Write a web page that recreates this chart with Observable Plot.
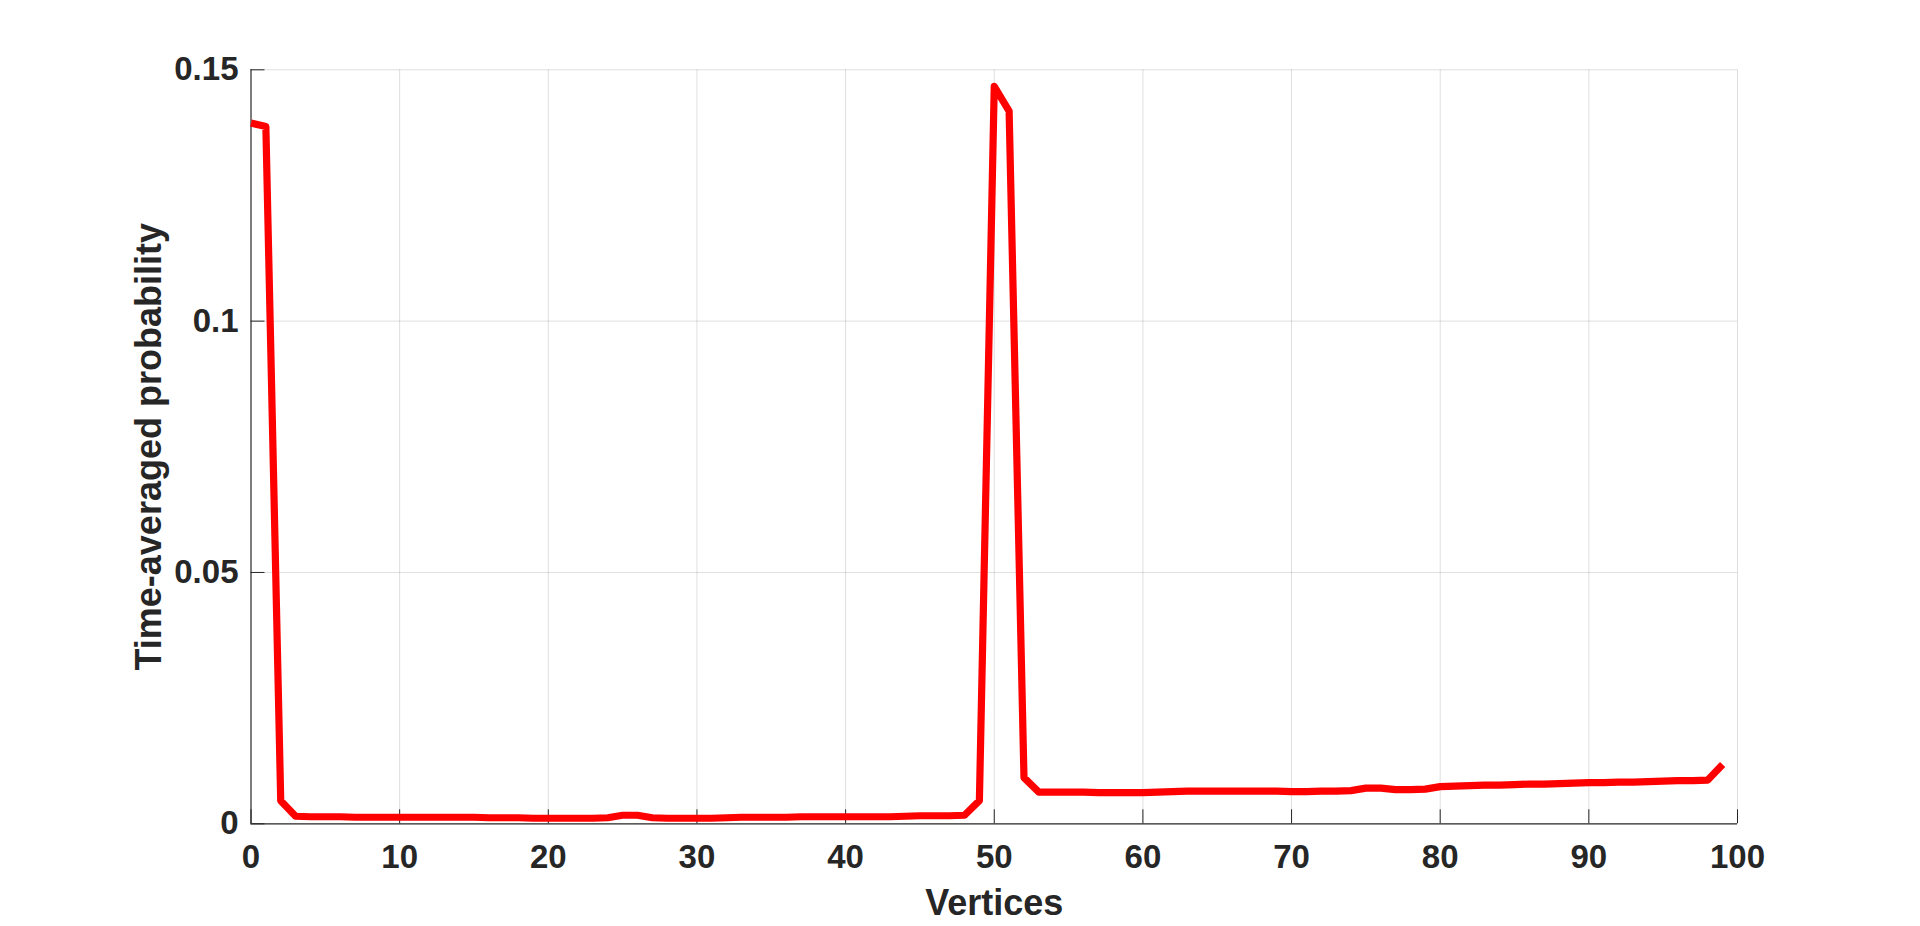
<!DOCTYPE html>
<html>
<head>
<meta charset="utf-8">
<script src="https://cdn.jsdelivr.net/npm/d3@7"></script>
<script src="https://cdn.jsdelivr.net/npm/@observablehq/plot@0.6"></script>
<style>
  html, body { margin: 0; padding: 0; background: #fff; }
  #chart svg { display: block; }
</style>
</head>
<body>
<div id="chart"></div>
<script>
// Data
const vertices = d3.range(0, 100);
const probability = [
  0.1394, 0.1387, 0.0046, 0.0015, 0.0014, 0.0014, 0.0014, 0.0013, 0.0013, 0.0013,
  0.0013, 0.0013, 0.0013, 0.0013, 0.0013, 0.0013, 0.0012, 0.0012, 0.0012, 0.0011,
  0.0011, 0.0011, 0.0011, 0.0011, 0.0012, 0.0017, 0.0017, 0.0012, 0.0011, 0.0011,
  0.0011, 0.0011, 0.0012, 0.0013, 0.0013, 0.0013, 0.0013, 0.0014, 0.0014, 0.0014,
  0.0014, 0.0014, 0.0014, 0.0014, 0.0015, 0.0016, 0.0016, 0.0016, 0.0017, 0.0046,
  0.1467, 0.1418, 0.0092, 0.0063, 0.0063, 0.0063, 0.0063, 0.0062, 0.0062, 0.0062,
  0.0062, 0.0063, 0.0064, 0.0065, 0.0065, 0.0065, 0.0065, 0.0065, 0.0065, 0.0065,
  0.0064, 0.0064, 0.0065, 0.0065, 0.0066, 0.0071, 0.0071, 0.0068, 0.0068, 0.0069,
  0.0074, 0.0075, 0.0076, 0.0077, 0.0077, 0.0078, 0.0079, 0.0079, 0.0080, 0.0081,
  0.0082, 0.0082, 0.0083, 0.0083, 0.0084, 0.0085, 0.0086, 0.0086, 0.0087, 0.0118
];
const xTicks = [0, 10, 20, 30, 40, 50, 60, 70, 80, 90, 100];
const yTicks = [0, 0.05, 0.1, 0.15];
const xLabel = "Vertices";
const yLabel = "Time-averaged probability";

const data = vertices.map((v, i) => ({vertex: v, p: probability[i]}));

const ink = "#262626";
const font = "'Liberation Sans', Arial, Helvetica, sans-serif";

const chart = Plot.plot({
  width: 1920,
  height: 926,
  marginLeft: 250.5,
  marginRight: 183,
  marginTop: 69.3,
  marginBottom: 102.7,
  style: {fontFamily: font, background: "#fff", color: ink},
  x: {domain: [0, 100], ticks: xTicks},
  y: {domain: [0, 0.15], ticks: yTicks},
  marks: [
    Plot.gridX(xTicks.filter(d => d > 0), {stroke: "#000", strokeOpacity: 0.13, strokeWidth: 1}),
    Plot.gridY(yTicks.filter(d => d > 0), {stroke: "#000", strokeOpacity: 0.13, strokeWidth: 1}),
    Plot.ruleX([0], {stroke: ink, strokeWidth: 1.2}),
    Plot.ruleY([0], {stroke: ink, strokeWidth: 1.2}),
    // inward ticks
    Plot.axisX(xTicks, {tickSize: 14, dy: -14, text: null, stroke: ink, label: null}),
    Plot.axisY(yTicks, {tickSize: 14, dx: 14, text: null, stroke: ink, label: null}),
    // tick labels
    Plot.axisX(xTicks, {tickSize: 0, tickPadding: 21, fontSize: 33, fontWeight: "bold", fill: ink, label: null}),
    Plot.axisY(yTicks, {tickSize: 0, tickPadding: 12.5, fontSize: 33, fontWeight: "bold", fill: ink, label: null, tickFormat: d => String(d)}),
    // the series
    Plot.line(data, {x: "vertex", y: "p", stroke: "#ff0000", strokeWidth: 7.2, strokeLinejoin: "round", strokeLinecap: "butt"}),
    // axis titles
    Plot.text([xLabel], {frameAnchor: "bottom", dy: 80, lineAnchor: "middle", textAnchor: "middle", fontSize: 36, fontWeight: "bold", fill: ink}),
    Plot.text([yLabel], {frameAnchor: "left", dx: -101.5, rotate: -90, lineAnchor: "middle", textAnchor: "middle", fontSize: 36, fontWeight: "bold", fill: ink})
  ]
});

document.getElementById("chart").appendChild(chart);
</script>
</body>
</html>
